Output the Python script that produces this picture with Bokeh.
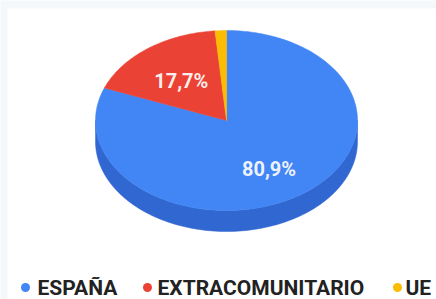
import math
from bokeh.plotting import figure
from bokeh.models import Range1d
from bokeh.core.properties import value
from bokeh.embed import file_html
from bokeh.resources import INLINE

# ---- data ----
categories = ["ESPAÑA", "EXTRACOMUNITARIO", "UE"]
shares = [80.9, 17.7, 1.4]
labels = ["80,9%", "17,7%", ""]
colors = ["#4285f4", "#ea4335", "#fbbc04"]
side_colors = ["#3067d0", "#b8352a", "#c89603"]

W, H = 436, 299
p = figure(width=W, height=H, output_backend="svg", toolbar_location=None,
           x_range=Range1d(0, W), y_range=Range1d(0, H),
           min_border=0, border_fill_color="#f4f8fb", background_fill_color="#f4f8fb")
p.xaxis.visible = False
p.yaxis.visible = False
p.xgrid.visible = False
p.ygrid.visible = False
p.outline_line_color = None

# white chart panel
p.quad(left=[7], right=[W], bottom=[0], top=[H - 8], fill_color="white", line_color=None)

cx, cy = 226, 179
rx, ry = 131, 90
depth = 21

def pt(theta_deg, dy=0.0):
    t = math.radians(theta_deg)
    return cx + rx * math.sin(t), cy + ry * math.cos(t) - dy

total = sum(shares)
starts, ends = [], []
acc = 0.0
for s in shares:
    starts.append(acc / total * 360.0)
    acc += s
    ends.append(acc / total * 360.0)

# side walls (visible front half: 90..270 deg clockwise from top)
sxs, sys, scol = [], [], []
for a, b, c in zip(starts, ends, side_colors):
    lo, hi = max(a, 90.0), min(b, 270.0)
    if hi <= lo:
        continue
    n = max(4, int((hi - lo) / 1.5))
    top = [pt(lo + (hi - lo) * i / n) for i in range(n + 1)]
    bot = [pt(lo + (hi - lo) * i / n, depth) for i in range(n, -1, -1)]
    pts = top + bot
    sxs.append([q[0] for q in pts])
    sys.append([q[1] for q in pts])
    scol.append(c)
p.patches(sxs, sys, fill_color=scol, line_color=scol, line_width=0.5)

# top faces
txs, tys = [], []
for a, b in zip(starts, ends):
    n = max(3, int((b - a) / 1.0))
    pts = [(cx, cy)] + [pt(a + (b - a) * i / n) for i in range(n + 1)]
    txs.append([q[0] for q in pts])
    tys.append([q[1] for q in pts])
p.patches(txs, tys, fill_color=colors, line_color=colors, line_width=0.5)

# percentage labels
lx, ly, lt = [], [], []
for a, b, t in zip(starts, ends, labels):
    if not t:
        continue
    m = (a + b) / 2.0
    tt = math.radians(m)
    lx.append(cx + rx * 0.575 * math.sin(tt))
    ly.append(cy + ry * 0.6 * math.cos(tt))
    lt.append(t)
p.text(x=lx, y=ly, text=lt, text_color="white", text_alpha=0.92, text_font=value("Roboto"),
       text_font_style="bold", text_font_size="20px", y_offset=4,
       text_align="center", text_baseline="middle")

# legend
leg_dot_x = [25, 147, 397]
leg_text_x = [37, 157, 405]
leg_y = 12
p.scatter(x=leg_dot_x, y=[leg_y] * 3, size=9, fill_color=colors, line_color=None)
p.text(x=leg_text_x, y=[leg_y] * 3, text=categories, text_color="#222222",
       text_font=value("Roboto"), text_font_style="bold", text_font_size="21px",
       text_align="left", text_baseline="middle")

open("out.html", "w").write(file_html(p, INLINE))
